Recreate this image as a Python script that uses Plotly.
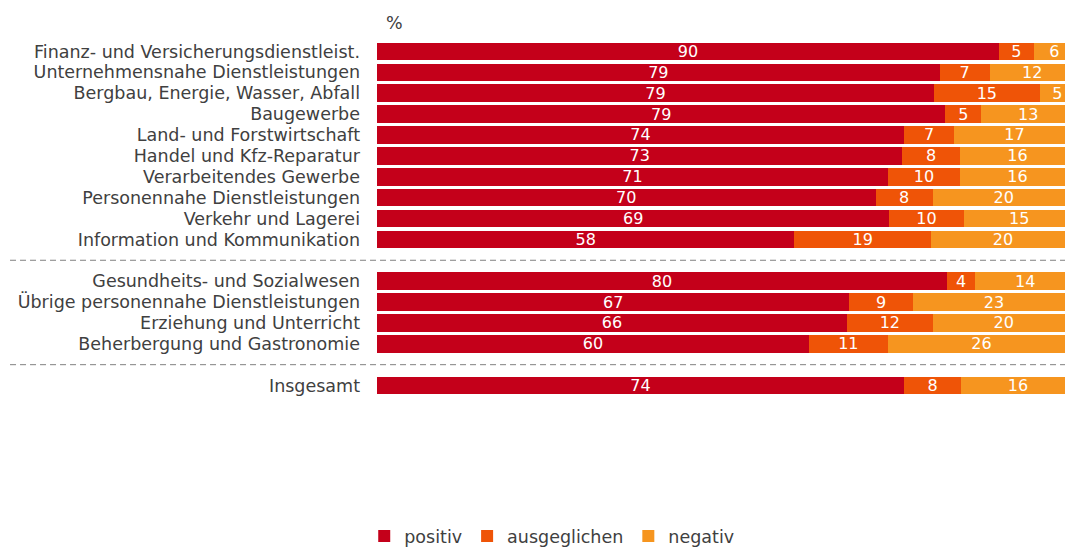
import plotly.graph_objects as go

categories = [
    "Finanz- und Versicherungsdienstleist.",
    "Unternehmensnahe Dienstleistungen",
    "Bergbau, Energie, Wasser, Abfall",
    "Baugewerbe",
    "Land- und Forstwirtschaft",
    "Handel und Kfz-Reparatur",
    "Verarbeitendes Gewerbe",
    "Personennahe Dienstleistungen",
    "Verkehr und Lagerei",
    "Information und Kommunikation",
    "Gesundheits- und Sozialwesen",
    "Übrige personennahe Dienstleistungen",
    "Erziehung und Unterricht",
    "Beherbergung und Gastronomie",
    "Insgesamt",
]
positiv = [90, 79, 79, 79, 74, 73, 71, 70, 69, 58, 80, 67, 66, 60, 74]
ausgeglichen = [5, 7, 15, 5, 7, 8, 10, 8, 10, 19, 4, 9, 12, 11, 8]
negativ = [6, 12, 5, 13, 17, 16, 16, 20, 15, 20, 14, 23, 20, 26, 16]
series_names = ["positiv", "ausgeglichen", "negativ"]
colors = ["#C4001A", "#EF5407", "#F6951F"]

# order with two blank separator slots
order = categories[:10] + [" "] + categories[10:14] + ["  "] + categories[14:]

FONT = "DejaVu Sans"
TXT = "#404040"
W, H = 1065, 548
fig = go.Figure()
for name, vals, col in zip(series_names, [positiv, ausgeglichen, negativ], colors):
    fig.add_trace(go.Bar(
        y=categories, x=vals, name=name, orientation="h",
        marker=dict(color=col, line=dict(width=0)),
        text=vals, texttemplate="%{text}", textposition="inside",
        insidetextanchor="middle", textangle=0, constraintext="none",
        insidetextfont=dict(color="white", size=16, family=FONT),
    ))

shapes = []
for idx in (10, 15):
    shapes.append(dict(type="line", xref="paper", yref="y",
                       x0=-0.5334, x1=1.0, y0=idx, y1=idx,
                       line=dict(color="#808080", width=1, dash="6px,4px")))

fig.update_layout(
    width=W, height=H,
    margin=dict(l=377, r=0, t=41, b=152, autoexpand=False),
    barmode="stack", barnorm="percent", bargap=0.16,
    paper_bgcolor="white", plot_bgcolor="white",
    font=dict(family=FONT, size=17.5, color=TXT),
    showlegend=True,
    legend=dict(orientation="h", xref="container", yref="container",
                x=0.342, xanchor="left", y=1 - 536 / H, yanchor="middle",
                font=dict(size=17.5, color=TXT), itemwidth=30, traceorder="normal"),
    shapes=shapes,
    annotations=[dict(text="%", xref="paper", yref="paper", x=0.026, y=1.0507,
                      xanchor="center", yanchor="middle",
                      showarrow=False, font=dict(size=17.5, color=TXT))],
)
fig.update_xaxes(range=[0, 98.57], showticklabels=False, showgrid=False, zeroline=False,
                 showline=False, fixedrange=True)
fig.update_yaxes(type="category", categoryorder="array", categoryarray=order,
                 tickmode="array", tickvals=categories, ticktext=categories,
                 range=[len(order) - 0.5, -0.5], showgrid=False, zeroline=False,
                 showline=False, ticks="", ticklabelstandoff=16, automargin=False,
                 tickfont=dict(size=17.5, color=TXT))

fig.write_html("out.html", config={"displayModeBar": False},
               post_script="document.body.style.margin='0px';document.body.style.overflow='hidden';")
